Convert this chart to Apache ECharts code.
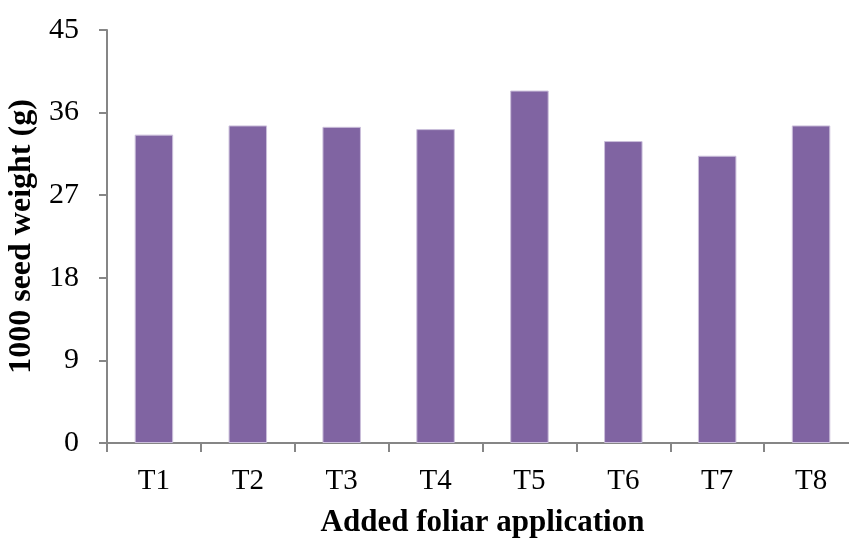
<!DOCTYPE html>
<html>
<head>
<meta charset="utf-8">
<script src="https://cdn.jsdelivr.net/npm/echarts@6/dist/echarts.min.js"></script>
<style>
  html, body { margin: 0; padding: 0; background: #fff; }
  #chart { width: 849px; height: 540px; }
</style>
</head>
<body>
<div id="chart"></div>
<script>
// Treatments and their mean 1000-seed weight (g)
const treatments = ['T1', 'T2', 'T3', 'T4', 'T5', 'T6', 'T7', 'T8'];
const seedWeight = [33.6, 34.6, 34.45, 34.2, 38.4, 32.9, 31.3, 34.6];
const yTicks = { min: 0, max: 45, interval: 9 };

const serif = '"Liberation Serif", "Times New Roman", serif';
const axisGray = '#868686';

const chart = echarts.init(document.getElementById('chart'), null, { renderer: 'canvas' });
chart.setOption({
  animation: false,
  backgroundColor: '#ffffff',
  grid: { left: 107, top: 30, right: -9, bottom: 97, containLabel: false, outerBoundsMode: 'none' },
  xAxis: {
    type: 'category',
    data: treatments,
    name: 'Added foliar application',
    nameLocation: 'middle',
    nameGap: 64,
    nameTextStyle: { fontFamily: serif, fontSize: 31, fontWeight: 'bold', color: '#000' },
    axisLine: { lineStyle: { color: axisGray, width: 2 } },
    axisTick: { show: true, length: 9, alignWithLabel: false, lineStyle: { color: axisGray, width: 2 } },
    axisLabel: { fontFamily: serif, fontSize: 29, color: '#000', margin: 24 },
    splitLine: { show: false }
  },
  yAxis: {
    type: 'value',
    min: yTicks.min,
    max: yTicks.max,
    interval: yTicks.interval,
    name: '1000 seed weight (g)',
    nameLocation: 'middle',
    nameGap: 63,
    nameRotate: 90,
    nameTextStyle: { fontFamily: serif, fontSize: 32, fontWeight: 'bold', color: '#000' },
    axisLine: { show: true, lineStyle: { color: axisGray, width: 2 } },
    axisTick: { show: true, length: 8, lineStyle: { color: axisGray, width: 2 } },
    axisLabel: { fontFamily: serif, fontSize: 30, color: '#000', margin: 28 },
    splitLine: { show: false }
  },
  series: [{
    type: 'bar',
    data: seedWeight,
    barWidth: '41%',
    itemStyle: { color: '#8064A2', borderColor: '#cbbfdb', borderWidth: 1 }
  }]
});
</script>
</body>
</html>
